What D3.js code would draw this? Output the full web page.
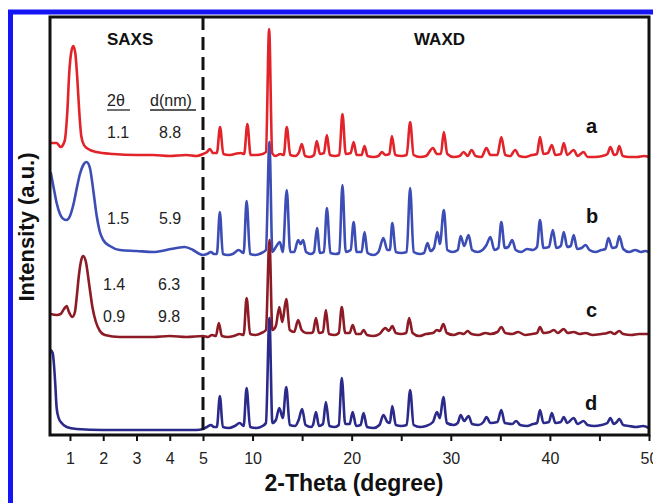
<!DOCTYPE html>
<html>
<head>
<meta charset="utf-8">
<script src="https://cdn.jsdelivr.net/npm/d3@7"></script>
<style>
  html, body { margin: 0; padding: 0; background: #fff; }
  svg { display: block; }
  text { font-family: "Liberation Sans", Arial, Helvetica, sans-serif; }
</style>
</head>
<body>
<svg id="chart" width="653" height="503"></svg>
<script>
// X-ray patterns: [2-theta (degree), intensity (a.u., offset per sample)]
const saxsA = [[0.42,291],[0.6,291],[0.72,287],[0.84,293],[0.92,322],[0.98,362],[1.04,382],[1.1,388],[1.16,381],[1.22,356],[1.28,322],[1.34,298],[1.42,289],[1.55,285],[1.8,282],[2.3,280],[3.0,279],[3.5,279],[4.0,278],[4.5,279],[4.8,278]];
const waxdA = [[5.0,280],[5.4,282],[5.7,285],[6.0,281],[6.4,281],[6.72,307],[7.05,280],[7.6,279],[8.2,280],[8.8,281],[9.15,280],[9.48,310],[9.8,279],[10.4,279],[11.0,280],[11.35,282],[11.67,405],[11.98,281],[12.3,278],[12.8,280],[13.15,279],[13.45,307],[13.8,279],[14.3,278],[14.7,282],[14.97,290],[15.3,278],[15.8,277],[16.2,279],[16.48,293],[16.8,280],[17.2,281],[17.5,299],[17.8,279],[18.3,278],[18.75,279],[19.07,320],[19.4,280],[19.9,281],[20.2,292],[20.5,279],[21.0,279],[21.3,288],[21.6,278],[22.2,277],[22.7,278],[23.05,282],[23.4,279],[23.8,280],[24.06,298],[24.4,279],[25.0,278],[25.55,279],[25.9,312],[26.25,279],[26.9,277],[27.5,278],[28.2,286],[28.6,280],[29.0,280],[29.3,302],[29.65,280],[30.3,277],[30.9,278],[31.3,282],[31.7,278],[32.1,284],[32.5,278],[33.1,277],[33.6,286],[34.0,279],[34.7,279],[35.1,297],[35.5,279],[36.0,278],[36.5,284],[36.9,278],[37.5,277],[38.2,279],[38.7,280],[39.0,297],[39.35,280],[39.8,281],[40.2,289],[40.55,279],[41.1,280],[41.4,291],[41.75,279],[42.4,284],[42.8,278],[43.4,282],[43.8,277],[44.5,277],[45.3,278],[45.8,280],[46.1,287],[46.5,279],[46.75,280],[47.0,288],[47.35,278],[48.0,277],[48.8,277],[49.5,278],[50.0,277]];

const saxsB = [[0.42,262],[0.5,248],[0.6,231],[0.7,220],[0.8,215],[0.9,214],[1.0,218],[1.1,229],[1.2,245],[1.3,260],[1.4,269],[1.5,272],[1.6,266],[1.7,244],[1.8,219],[1.9,202],[2.0,194],[2.2,188],[2.5,184],[3.0,183],[3.5,182],[3.9,184],[4.2,186],[4.45,187],[4.7,184],[4.9,180]];
const waxdB = [[5.0,179],[5.4,180],[5.8,182],[6.1,180],[6.4,180],[6.7,222],[7.0,180],[7.5,179],[8.0,180],[8.6,184],[9.1,181],[9.4,233],[9.75,180],[10.3,179],[10.9,181],[11.35,184],[11.7,292],[12.0,182],[12.35,187],[12.75,192],[13.05,182],[13.45,244],[13.8,182],[14.2,182],[14.6,194],[14.85,190],[15.1,194],[15.4,182],[15.9,180],[16.2,182],[16.5,206],[16.8,181],[17.2,182],[17.5,226],[17.85,181],[18.4,180],[18.75,181],[19.07,249],[19.4,182],[19.9,184],[20.2,212],[20.5,182],[21.0,182],[21.3,202],[21.6,181],[22.2,179],[22.7,182],[23.2,196],[23.6,184],[23.85,184],[24.1,211],[24.45,182],[25.0,181],[25.55,182],[25.9,246],[26.25,182],[26.9,180],[27.3,181],[27.65,191],[27.95,183],[28.3,186],[28.65,202],[28.9,190],[29.3,224],[29.65,184],[30.2,182],[30.7,184],[31.0,198],[31.35,188],[31.8,199],[32.15,184],[32.7,182],[33.2,184],[33.6,189],[34.0,197],[34.4,184],[34.8,186],[35.1,212],[35.45,186],[35.8,187],[36.2,194],[36.55,184],[37.1,182],[37.7,185],[38.3,184],[38.7,187],[39.0,214],[39.35,186],[39.9,187],[40.3,204],[40.65,186],[41.1,188],[41.4,202],[41.75,187],[42.1,188],[42.4,199],[42.75,185],[43.2,186],[43.6,189],[44.0,184],[44.6,182],[45.2,184],[45.6,185],[45.9,196],[46.3,186],[46.7,187],[47.0,198],[47.4,185],[48.0,182],[48.6,184],[49.2,182],[49.6,183],[50.0,182]];

const saxsC = [[0.42,120],[0.6,119],[0.72,120],[0.82,125],[0.9,128],[0.97,122],[1.07,117],[1.15,122],[1.2,136],[1.27,159],[1.34,174],[1.4,178],[1.48,172],[1.58,149],[1.68,126],[1.78,112],[1.9,103],[2.05,99],[2.5,97],[3.0,97],[3.5,97],[4.0,98],[4.5,97]];
const waxdC = [[5.0,98],[5.5,97],[5.9,99],[6.3,98],[6.6,111],[6.9,98],[7.5,97],[8.1,98],[8.7,100],[9.1,99],[9.4,136],[9.75,100],[10.3,99],[10.9,101],[11.35,104],[11.7,194],[12.0,104],[12.35,108],[12.7,127],[13.0,112],[13.4,135],[13.75,104],[14.2,102],[14.6,114],[14.95,104],[15.4,101],[15.9,101],[16.1,102],[16.4,116],[16.7,101],[17.1,102],[17.4,124],[17.7,100],[18.3,99],[18.7,101],[19.0,127],[19.35,101],[19.8,101],[20.1,109],[20.45,100],[20.9,100],[21.2,104],[21.55,99],[22.2,98],[22.8,100],[23.4,106],[23.75,103],[24.1,108],[24.45,101],[25.0,100],[25.5,101],[25.8,116],[26.15,101],[26.8,98],[27.5,100],[28.2,101],[28.6,104],[28.9,103],[29.25,110],[29.6,101],[30.3,99],[30.9,101],[31.3,100],[31.7,103],[32.1,100],[32.8,99],[33.5,101],[34.0,100],[34.7,102],[35.1,107],[35.5,101],[36.2,100],[36.8,102],[37.5,99],[38.2,100],[38.7,101],[39.0,107],[39.35,101],[40.0,102],[40.4,104],[40.8,101],[41.4,105],[41.8,101],[42.4,102],[43.0,100],[43.6,101],[44.3,99],[45.2,100],[45.8,101],[46.1,102],[46.5,100],[47.0,103],[47.4,100],[48.2,99],[49.0,100],[50.0,100]];

const saxsD = [[0.42,84],[0.48,81],[0.52,69],[0.56,49],[0.6,26],[0.66,16],[0.75,11],[0.9,7],[1.2,5],[2.0,4],[3.0,4],[4.0,4],[4.8,4]];
const waxdD = [[5.0,5],[5.4,7],[5.8,9],[6.1,7],[6.4,7],[6.7,38],[7.0,7],[7.6,6],[8.2,8],[8.7,11],[9.1,8],[9.4,46],[9.75,7],[10.4,6],[11.0,8],[11.35,11],[11.7,116],[12.0,11],[12.35,14],[12.7,26],[13.05,16],[13.4,47],[13.75,9],[14.3,8],[14.65,14],[15.0,25],[15.35,9],[15.9,7],[16.1,9],[16.4,22],[16.7,8],[17.1,10],[17.4,32],[17.75,8],[18.3,7],[18.7,9],[19.0,56],[19.35,10],[19.8,10],[20.1,22],[20.45,8],[20.9,9],[21.2,21],[21.55,7],[22.2,6],[22.8,9],[23.2,19],[23.6,12],[23.85,11],[24.1,28],[24.45,9],[25.0,8],[25.55,9],[25.9,44],[26.25,9],[26.9,7],[27.5,8],[28.2,12],[28.6,22],[28.9,16],[29.25,37],[29.6,11],[30.3,9],[30.7,11],[31.0,19],[31.35,13],[31.8,18],[32.15,10],[32.8,9],[33.3,12],[33.6,17],[34.0,11],[34.7,12],[35.1,24],[35.45,11],[36.2,10],[36.6,13],[37.0,9],[37.7,8],[38.3,10],[38.7,11],[39.0,24],[39.35,11],[39.9,12],[40.2,21],[40.55,11],[41.1,12],[41.4,17],[41.75,11],[42.4,16],[42.8,10],[43.4,13],[43.8,9],[44.5,8],[45.2,9],[45.8,11],[46.1,16],[46.45,10],[46.75,12],[47.0,15],[47.4,9],[48.0,8],[48.7,7],[49.4,8],[50.0,6]];

const sampleNames = ["a", "b", "c", "d"];
const sampleColors = ["#e3232a", "#3c4db5", "#8d1b25", "#2b2a8b"];
const tickValues = [1, 2, 3, 4, 5, 10, 15, 20, 25, 30, 35, 40, 45, 50];
const labelledTicks = [1, 2, 3, 4, 5, 10, 20, 30, 40, 50];
// small-angle peak table: 2-theta and d-spacing (nm)
const peakTwoTheta = ["1.1", "1.5", "1.4", "0.9"];
const peakSpacing = ["8.8", "5.9", "6.3", "9.8"];

const patterns = [
  saxsA.concat(waxdA),
  saxsB.concat(waxdB),
  saxsC.concat(waxdC),
  saxsD.concat(waxdD)
];

const svg = d3.select("#chart");
const plotLeft = 50, plotRight = 649, plotTop = 17, plotBottom = 435;

// split axis: SAXS range 0.4-5 on the left, WAXD range 5-50 on the right
const x = d3.scaleLinear().domain([0.4, 5, 50]).range([plotLeft, 203, plotRight]);
const y = d3.scaleLinear().domain([0, 418]).range([434, 16]);

// blue outer border
svg.append("rect")
  .attr("x", 10.5).attr("y", 12).attr("width", 700).attr("height", 600)
  .attr("fill", "none").attr("stroke", "#1414f5").attr("stroke-width", 5);

const line = d3.line()
  .x(d => x(d[0]))
  .y(d => y(d[1]))
  .curve(d3.curveMonotoneX);

// drawing order b, c, d, a
[1, 2, 3, 0].forEach(i => {
  svg.append("path")
    .datum(patterns[i])
    .attr("d", line)
    .attr("fill", "none")
    .attr("stroke", sampleColors[i])
    .attr("stroke-width", 2.6)
    .attr("stroke-linejoin", "round");
});

// separator between SAXS and WAXD
svg.append("line")
  .attr("x1", x(5)).attr("x2", x(5))
  .attr("y1", plotTop).attr("y2", plotBottom)
  .attr("stroke", "#111").attr("stroke-width", 3)
  .attr("stroke-dasharray", "13,7");

// frame
svg.append("rect")
  .attr("x", plotLeft).attr("y", plotTop)
  .attr("width", plotRight - plotLeft).attr("height", plotBottom - plotTop)
  .attr("fill", "none").attr("stroke", "#111").attr("stroke-width", 3);

// x axis
const axis = svg.append("g")
  .attr("transform", `translate(0,${plotBottom})`)
  .call(d3.axisBottom(x)
    .tickValues(tickValues)
    .tickFormat(v => labelledTicks.includes(v) ? String(v) : "")
    .tickSize(6)
    .tickPadding(12));
axis.select(".domain").remove();
axis.selectAll(".tick line").attr("stroke", "#111").attr("stroke-width", 2);
axis.selectAll(".tick text")
  .attr("fill", "#222")
  .style("font-size", "16px")
  .style("font-family", "'Liberation Sans', Arial, sans-serif");

// axis titles
svg.append("text")
  .attr("x", 354).attr("y", 491)
  .attr("text-anchor", "middle")
  .style("font-size", "23px").style("font-weight", "bold")
  .attr("fill", "#111")
  .text("2-Theta (degree)");

svg.append("text")
  .attr("transform", "translate(34,227) rotate(-90)")
  .attr("text-anchor", "middle")
  .style("font-size", "22px").style("font-weight", "bold")
  .attr("fill", "#111")
  .text("Intensity (a.u.)");

// region titles
svg.append("text").attr("x", 107).attr("y", 45)
  .style("font-size", "17px").style("font-weight", "bold").attr("fill", "#111")
  .text("SAXS");
svg.append("text").attr("x", 414).attr("y", 45)
  .style("font-size", "17px").style("font-weight", "bold").attr("fill", "#111")
  .text("WAXD");

// peak table header
svg.append("text").attr("x", 107).attr("y", 106)
  .style("font-size", "16px").attr("fill", "#222").text("2θ");
svg.append("text").attr("x", 150).attr("y", 106)
  .style("font-size", "16px").attr("fill", "#222").text("d(nm)");
svg.append("line").attr("x1", 107).attr("x2", 130).attr("y1", 110).attr("y2", 110)
  .attr("stroke", "#222").attr("stroke-width", 1.3);
svg.append("line").attr("x1", 150).attr("x2", 196).attr("y1", 110).attr("y2", 110)
  .attr("stroke", "#222").attr("stroke-width", 1.3);

// peak table rows
const rowPos = [[107, 159, 138], [107, 159, 224], [103, 158, 290], [103, 158, 322]];
peakTwoTheta.forEach((t, i) => {
  svg.append("text").attr("x", rowPos[i][0]).attr("y", rowPos[i][2])
    .style("font-size", "16px").attr("fill", "#222").text(t);
  svg.append("text").attr("x", rowPos[i][1]).attr("y", rowPos[i][2])
    .style("font-size", "16px").attr("fill", "#222").text(peakSpacing[i]);
});

// sample letters
const letterPos = [[586, 133], [586, 223], [586, 317], [585, 410]];
sampleNames.forEach((n, i) => {
  svg.append("text").attr("x", letterPos[i][0]).attr("y", letterPos[i][1])
    .style("font-size", "20px").style("font-weight", "bold").attr("fill", "#111")
    .text(n);
});
</script>
</body>
</html>
